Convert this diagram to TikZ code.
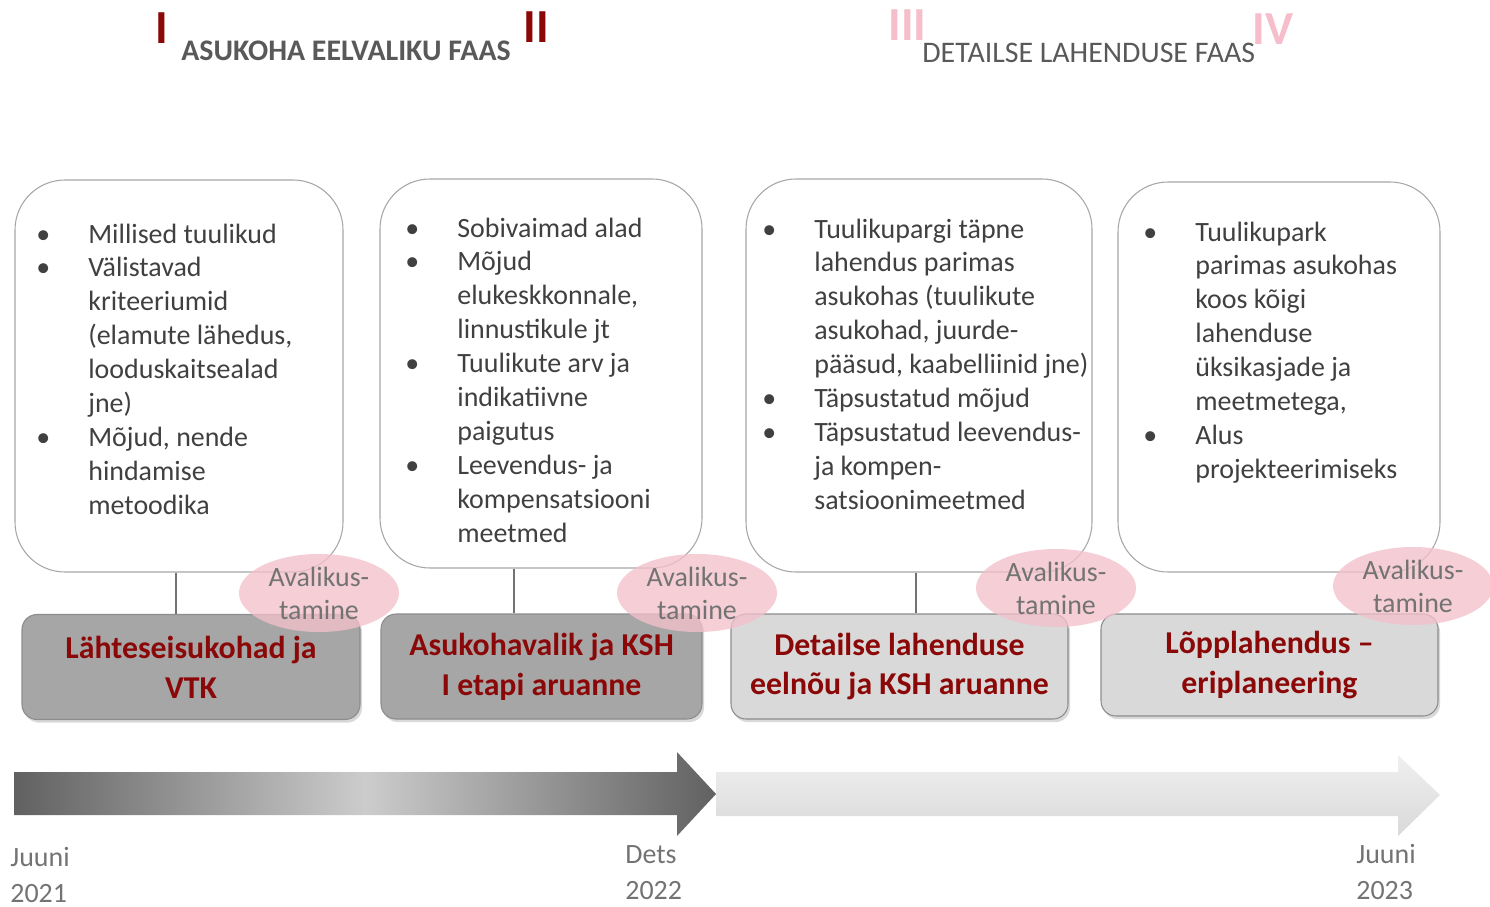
\documentclass[tikz,border=0pt]{standalone}
\usepackage{fontspec}
\setmainfont{Carlito}
\usetikzlibrary{shapes.geometric,shadows}

\definecolor{darkred}{RGB}{139,8,8}
\definecolor{lightred}{RGB}{245,190,202}
\definecolor{pinkfill}{RGB}{242,192,203}
\definecolor{titlegray}{RGB}{89,89,89}
\definecolor{textgray}{RGB}{64,64,64}
\definecolor{bordergray}{RGB}{166,166,166}
\definecolor{boxdark}{RGB}{166,166,166}
\definecolor{boxlight}{RGB}{217,217,217}
\definecolor{boxborder}{RGB}{140,140,140}
\definecolor{softgray}{RGB}{115,115,115}

\newdimen\pxu \pxu=0.02cm

\begin{document}
\begin{tikzpicture}[
  x=0.02cm, y=-0.02cm,
  numeral/.style={font=\fontsize{27}{30}\selectfont\bfseries, anchor=base west, inner sep=0},
  phasetitle/.style={font=\fontsize{17}{20}\selectfont, text=titlegray, anchor=base west, inner sep=0},
  bubble/.style={draw=bordergray, line width=0.6pt, fill=white, rounded corners=1cm},
  items/.style={font=\fontsize{15.9}{19.3}\selectfont, text=textgray, anchor=base west, inner sep=0},
  stage/.style={draw=boxborder, line width=0.6pt, rounded corners=0.3cm, align=center,
    font=\fontsize{18.1}{22.7}\selectfont\bfseries, text=darkred,
    drop shadow={shadow xshift=1.2pt, shadow yshift=-1.8pt, opacity=0.3}},
  hearing/.style={ellipse, fill=pinkfill, fill opacity=0.78, text opacity=1, inner sep=0,
    minimum width=160\pxu, minimum height=78\pxu, align=center,
    font=\fontsize{15.9}{18.7}\selectfont, text=softgray},
  link/.style={draw=softgray, line width=0.7pt},
  date/.style={font=\fontsize{15.9}{20.4}\selectfont, text=softgray, align=left, anchor=base west, inner sep=0}
  ]
\useasboundingbox (0,0) rectangle (1490,906);

% phase headings
\node[numeral, text=darkred] (n1) at (155,43) {I};
\node[numeral, text=darkred] (n2) at (523,42) {II};
\node[numeral, text=lightred] (n3) at (888,40) {III};
\node[numeral, text=lightred] (n4) at (1252,44) {IV};
\node[phasetitle, font=\fontsize{17}{20}\selectfont\bfseries] (h1) at (181,60) {ASUKOHA EELVALIKU FAAS};
\node[phasetitle] (h2) at (922,62) {DETAILSE LAHENDUSE FAAS};

% content bubbles
\node[bubble, minimum width=328\pxu, minimum height=392\pxu] (b1) at (179,376) {};
\node[bubble, minimum width=322\pxu, minimum height=389\pxu] (b2) at (541,373.5) {};
\node[bubble, minimum width=346\pxu, minimum height=393\pxu] (b3) at (919,375.5) {};
\node[bubble, minimum width=322\pxu, minimum height=390\pxu] (b4) at (1279,377) {};

\node[items] (t1) at (36,243) {\begin{tabular}[t]{@{}p{52\pxu}@{}l@{}}
  \textbullet & Millised tuulikud\\
  \textbullet & Välistavad\\
  & kriteeriumid\\
  & (elamute lähedus,\\
  & looduskaitsealad\\
  & jne)\\
  \textbullet & Mõjud, nende\\
  & hindamise\\
  & metoodika
\end{tabular}};
\node[items] (t2) at (405,237) {\begin{tabular}[t]{@{}p{52\pxu}@{}l@{}}
  \textbullet & Sobivaimad alad\\
  \textbullet & Mõjud\\
  & elukeskkonnale,\\
  & linnustikule jt\\
  \textbullet & Tuulikute arv ja\\
  & indikatiivne\\
  & paigutus\\
  \textbullet & Leevendus- ja\\
  & kompensatsiooni\\
  & meetmed
\end{tabular}};
\node[items] (t3) at (762,238) {\begin{tabular}[t]{@{}p{52\pxu}@{}l@{}}
  \textbullet & Tuulikupargi täpne\\
  & lahendus parimas\\
  & asukohas (tuulikute\\
  & asukohad, juurde-\\
  & pääsud, kaabelliinid jne)\\
  \textbullet & Täpsustatud mõjud\\
  \textbullet & Täpsustatud leevendus-\\
  & ja kompen-\\
  & satsioonimeetmed
\end{tabular}};
\node[items] (t4) at (1143,241) {\begin{tabular}[t]{@{}p{52\pxu}@{}l@{}}
  \textbullet & Tuulikupark\\
  & parimas asukohas\\
  & koos kõigi\\
  & lahenduse\\
  & üksikasjade ja\\
  & meetmetega,\\
  \textbullet & Alus\\
  & projekteerimiseks
\end{tabular}};

% stage boxes
\node[stage, fill=boxdark, minimum width=338\pxu, minimum height=105\pxu] (k1) at (191,667) {Lähteseisukohad ja\\VTK};
\node[stage, fill=boxdark, minimum width=321\pxu, minimum height=105\pxu] (k2) at (541.5,666.5) {Asukohavalik ja KSH\\I etapi aruanne};
\node[stage, fill=boxlight, minimum width=337\pxu, minimum height=105\pxu] (k3) at (899.5,666.5) {Detailse lahenduse\\eelnõu ja KSH aruanne};
\node[stage, fill=boxlight, minimum width=337\pxu, minimum height=102\pxu] (k4) at (1269.5,665) {Lõpplahendus --\\eriplaneering};

% links bubble -> box
\coordinate (c1) at (176,0);
\coordinate (c2) at (514,0);
\coordinate (c3) at (916,0);
\draw[link] (c1 |- b1.south) -- (c1 |- k1.north);
\draw[link] (c2 |- b2.south) -- (c2 |- k2.north);
\draw[link] (c3 |- b3.south) -- (c3 |- k3.north);

% public hearings
\node[hearing] (e1) at (319,593) {Avalikus-\\tamine};
\node[hearing] (e2) at (697,593) {Avalikus-\\tamine};
\node[hearing] (e3) at (1056,588) {Avalikus-\\tamine};
\node[hearing] (e4) at (1413,586) {Avalikus-\\tamine};

% timeline
\shade[left color=black!62, right color=black!62, middle color=black!20]
  (14,772) -- (677,772) -- (677,752) -- (716,794) -- (677,836) -- (677,815) -- (14,815) -- cycle;
\shade[top color=black!6, bottom color=black!15]
  (716,772) -- (1398,772) -- (1398,755) -- (1440,795) -- (1398,836) -- (1398,816) -- (716,816) -- cycle;

\node[date] (d1) at (10,902) {Juuni\\2021};
\node[date] (d2) at (625,899) {Dets\\2022};
\node[date] (d3) at (1356,899) {Juuni\\2023};

\end{tikzpicture}
\end{document}
